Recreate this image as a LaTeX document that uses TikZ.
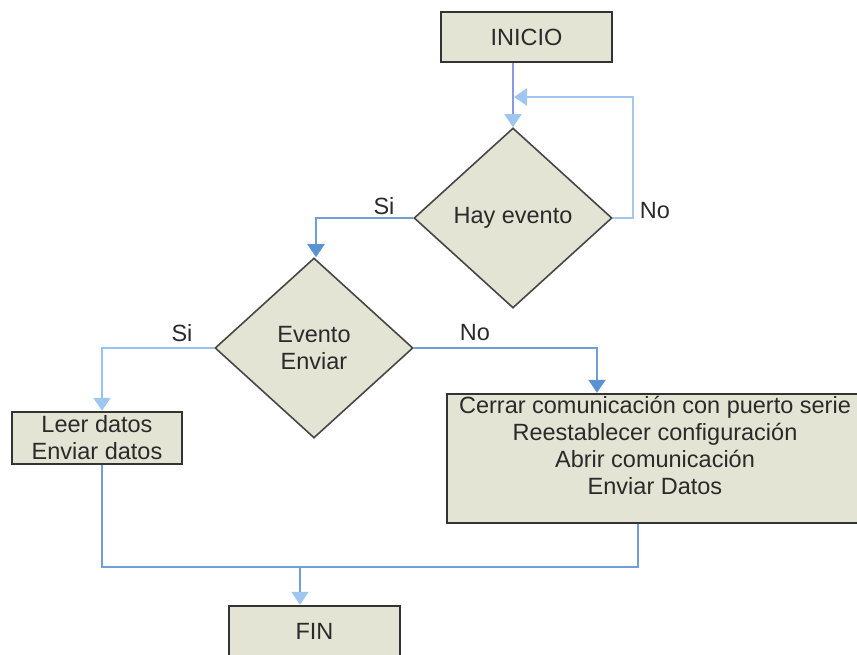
\documentclass[tikz,border=0pt]{standalone}
\usepackage{fontspec}
\setmainfont{Liberation Sans}
\usetikzlibrary{shapes.geometric,arrows.meta}

\definecolor{boxfill}{HTML}{E4E4D4}
\definecolor{boxline}{HTML}{333333}
\definecolor{txt}{HTML}{2A2A2A}
\definecolor{linklight}{HTML}{A3C7F1}
\definecolor{linkmid}{HTML}{6F9EDA}
\definecolor{linkviolet}{HTML}{8C98E0}
\definecolor{tipdark}{HTML}{5B93D1}
\definecolor{tiplight}{HTML}{9EC6F1}

\tikzset{
  dtext/.style={font=\fontsize{23.5}{27}\selectfont, text=txt},
  procbox/.style={rectangle, draw=boxline, line width=2.4pt, fill=boxfill, inner sep=0pt, dtext, align=center},
  decision/.style={diamond, draw=boxline!90, line width=1.6pt, fill=boxfill, inner sep=0pt,
    minimum width=198pt, minimum height=180pt, dtext, align=center},
  link/.style={line width=2pt, line join=miter},
  tipL/.style={-{Triangle[width=17pt,length=13pt,color=tiplight]}},
  tipD/.style={-{Triangle[width=17pt,length=13pt,color=tipdark]}},
  lbl/.style={dtext, inner sep=0pt}
}

\begin{document}
\begin{tikzpicture}[x=1pt, y=-1pt]
\useasboundingbox (0,0) rectangle (857,654);

% boxes
\node[procbox, minimum width=171pt, minimum height=50pt] (inicio) at (526.5,37) {INICIO};
\node[decision] (hay) at (513,218) {Hay evento};
\node[decision] (evt) at (314,348) {Evento\\Enviar};
\node[procbox, minimum width=170pt, minimum height=52pt] (leer) at (97,438) {Leer datos\\Enviar datos};
\node[procbox, minimum width=418pt, minimum height=129pt] (cerrar) at (656,458.5) {};
\node[dtext, align=center, inner sep=0pt] (cerrartxt) at (655,445)
  {Cerrar comunicación con puerto serie\\Reestablecer configuración\\Abrir comunicación\\Enviar Datos};
\node[procbox, minimum width=171pt, minimum height=50pt] (fin) at (314.5,631) {FIN};

% junction points
\coordinate (loopR) at (633,218);
\coordinate (loopT) at (633,97);
\coordinate (loopE) at (514,97);
\coordinate (siA) at (316,218);
\coordinate (siB) at (102,348);
\coordinate (noA) at (597,348);
\coordinate (mergeL) at (102,567);
\coordinate (mergeR) at (638,567);
\coordinate (mergeM) at (300,567);

% start into first decision
\draw[link, linkviolet, tipL] (inicio.south -| hay.north) -- (hay.north);
% "No" loop back
\draw[link, line width=2.6pt, linklight, tipL] (hay.east) -- (loopR) -- (loopT) -- (loopE);
% "Si" to second decision
\draw[link, linkmid, tipD] (hay.west) -- (siA) -- (siA |- evt.north);
% second decision branches
\draw[link, linklight!85!linkmid, tipL] (evt.west) -- (siB) -- (siB |- leer.north);
\draw[link, linkmid, tipD] (evt.east) -- (noA) -- (noA |- cerrar.north);
% merge into FIN
\draw[link, linkmid] (siB |- leer.south) -- (mergeL) -- (mergeR) -- (mergeR |- cerrar.south);
\draw[link, linkmid, tipL] (mergeM) -- (mergeM |- fin.north);

% branch labels
\node[lbl] (lblsi1) at (384,206) {Si};
\node[lbl] (lblno1) at (655,211) {No};
\node[lbl] (lblsi2) at (182,333) {Si};
\node[lbl] (lblno2) at (475,333) {No};
\end{tikzpicture}
\end{document}
